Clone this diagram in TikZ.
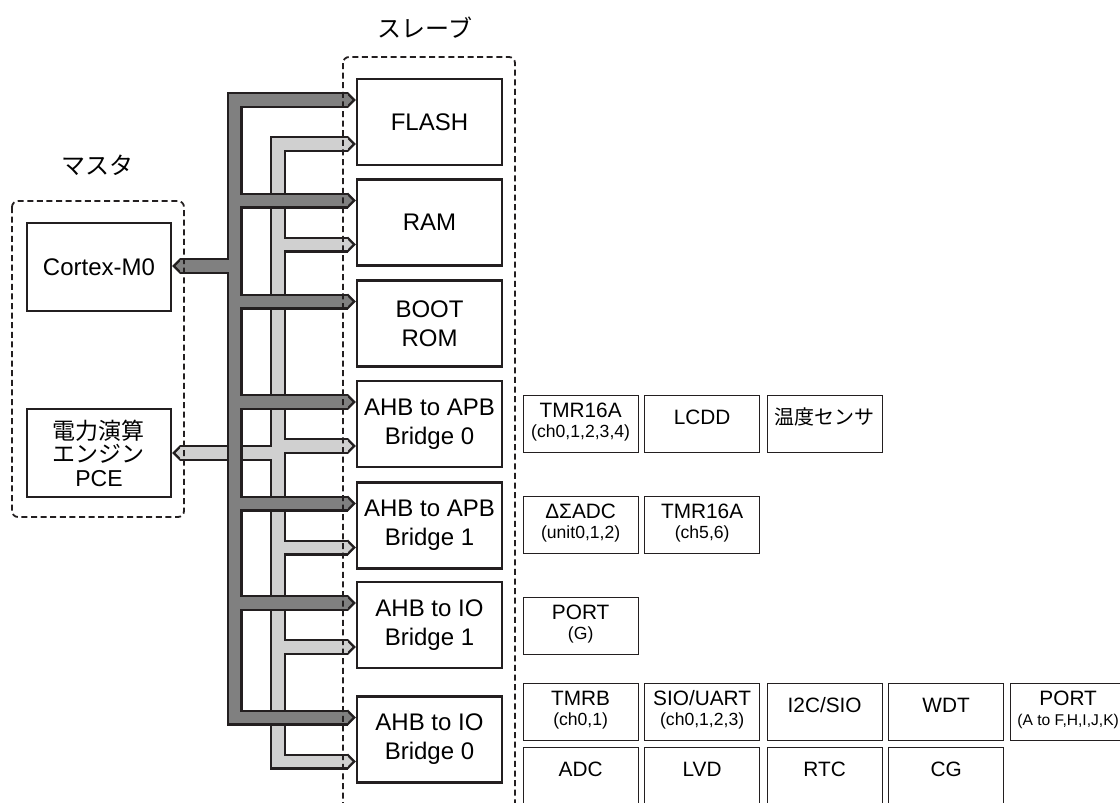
\documentclass[tikz,border=0pt]{standalone}
\usepackage{fontspec}
\setmainfont{Liberation Sans}
\newfontfamily\jp{Noto Sans CJK JP}
\usetikzlibrary{calc}
\definecolor{ink}{HTML}{231F20}
\definecolor{darkbus}{HTML}{808080}
\definecolor{lightbus}{HTML}{D0D0D0}
\tikzset{
  mainbox/.style={draw=ink, line width=1.2pt, minimum width=72.5pt, minimum height=43pt, inner sep=0pt, align=center, font=\fontsize{12}{14.5}\selectfont},
  masterbox/.style={mainbox, minimum width=72pt, minimum height=44pt},
  pbox/.style={draw=ink, line width=0.65pt, minimum width=57.5pt, minimum height=28.5pt, inner sep=0pt, anchor=north west},
  ptitle/.style={font=\fontsize{10.4}{12}\selectfont, inner sep=0pt},
  psub/.style={font=\fontsize{8.8}{10}\selectfont, inner sep=0pt},
  grpbox/.style={draw=ink, line width=0.9pt, dash pattern=on 3pt off 1.8pt, rounded corners=3pt},
  grptitle/.style={font=\jp\fontsize{12}{14}\selectfont, inner sep=0pt},
  busout/.style={draw=ink, line width=8pt},
  darkin/.style={draw=darkbus, line width=5.6pt},
  lightin/.style={draw=lightbus, line width=5.6pt},
  pics/bustip/.style={code={
    \fill[ink] (0,-8) -- (8,0) -- (0,8) -- cycle;
    \fill[#1] (-1,-5.6) -- (4.6,0) -- (-1,5.6) -- cycle;}},
}
\newcommand\darkbuspaths[1]{%
  \draw[#1] (flashD) -- (dk |- flashD) -- (dk |- io0D) -- (io0D);
  \draw[#1] (dk |- ramD) -- (ramD);
  \draw[#1] (dk |- bootD) -- (bootD);
  \draw[#1] (dk |- apb0D) -- (apb0D);
  \draw[#1] (dk |- apb1D) -- (apb1D);
  \draw[#1] (dk |- io1D) -- (io1D);
  \draw[#1] (dk |- cpuE) -- (cpuE);
}
\newcommand\lightbuspaths[1]{%
  \draw[#1] (flashL) -- (lt |- flashL) -- (lt |- io0L) -- (io0L);
  \draw[#1] (lt |- ramL) -- (ramL);
  \draw[#1] (lt |- apb0L) -- (apb0L);
  \draw[#1] (lt |- apb1L) -- (apb1L);
  \draw[#1] (lt |- io1L) -- (io1L);
  \draw[#1] (lt |- pceE) -- (pceE);
}
\begin{document}
\begin{tikzpicture}[x=0.5pt,y=-0.5pt]
\clip (0,0) rectangle (1120,803);

% titles
\node[grptitle] (slvt) at (425,28) {スレーブ};
\node[grptitle] (mstt) at (97.5,165) {マスタ};

% master boxes
\node[masterbox] (cpu) at (99,267) {Cortex-M0};
\node[masterbox, font=\fontsize{11.5}{11.75}\selectfont] (pce) at (99,453) {{\jp 電力演算}\\{\jp エンジン}\\PCE};

% slave boxes
\node[mainbox] (flash) at (429.5,122) {FLASH};
\node[mainbox] (ram) at (429.5,222.5) {RAM};
\node[mainbox] (boot) at (429.5,323.5) {BOOT\\ROM};
\node[mainbox] (apb0) at (429.5,424) {AHB to APB\\Bridge 0};
\node[mainbox] (apb1) at (429.5,525.5) {AHB to APB\\Bridge 1};
\node[mainbox] (io1) at (429.5,625) {AHB to IO\\Bridge 1};
\node[mainbox] (io0) at (429.5,739.5) {AHB to IO\\Bridge 0};

% bus coordinates
\coordinate (dk) at (234.5,0);
\coordinate (lt) at (278,0);
\foreach \b in {flash,ram,boot,apb0,apb1,io1,io0}{
  \coordinate (\b D) at ($(\b.west)+(-8,-22)$);
  \coordinate (\b L) at ($(\b.west)+(-8,22)$);
}
\coordinate (cpuE) at ($(cpu.east)+(8,-1)$);
\coordinate (pceE) at ($(pce.east)+(8,0)$);

% light bus
\lightbuspaths{busout}
\lightbuspaths{lightin}
\foreach \b in {flashL,ramL,apb0L,apb1L,io1L,io0L} \pic at (\b) {bustip=lightbus};
\pic[xscale=-1] at (pceE) {bustip=lightbus};

% dark bus
\darkbuspaths{busout}
\darkbuspaths{darkin}
\foreach \b in {flashD,ramD,bootD,apb0D,apb1D,io1D,io0D} \pic at (\b) {bustip=darkbus};
\pic[xscale=-1] at (cpuE) {bustip=darkbus};

% peripherals: APB bridge 0
\node[pbox] (tmra) at (522.5,395) {};
\node[ptitle] at ($(tmra.north)+(0,15)$) {TMR16A};
\node[psub] at ($(tmra.north)+(0,38)$) {(ch0,1,2,3,4)};
\node[pbox] (lcdd) at (644,395) {};
\node[ptitle] at ($(lcdd.north)+(0,22)$) {LCDD};
\node[pbox] (temp) at (766.5,395) {};
\node[ptitle, font=\jp\fontsize{10}{12}\selectfont] at ($(temp.north)+(0,22)$) {温度センサ};

% APB bridge 1
\node[pbox] (dsadc) at (522.5,496) {};
\node[ptitle] at ($(dsadc.north)+(0,15)$) {ΔΣADC};
\node[psub] at ($(dsadc.north)+(0,38)$) {(unit0,1,2)};
\node[pbox] (tmrc) at (644,496) {};
\node[ptitle] at ($(tmrc.north)+(0,15)$) {TMR16A};
\node[psub] at ($(tmrc.north)+(0,38)$) {(ch5,6)};

% IO bridge 1
\node[pbox] (portg) at (522.5,597) {};
\node[ptitle] at ($(portg.north)+(0,15)$) {PORT};
\node[psub] at ($(portg.north)+(0,38)$) {(G)};

% IO bridge 0, top row
\node[pbox] (tmrb) at (522.5,683) {};
\node[ptitle] at ($(tmrb.north)+(0,15)$) {TMRB};
\node[psub] at ($(tmrb.north)+(0,38)$) {(ch0,1)};
\node[pbox] (sio) at (644,683) {};
\node[ptitle] at ($(sio.north)+(0,15)$) {SIO/UART};
\node[psub] at ($(sio.north)+(0,38)$) {(ch0,1,2,3)};
\node[pbox] (i2c) at (766.5,683) {};
\node[ptitle] at ($(i2c.north)+(0,22)$) {I2C/SIO};
\node[pbox] (wdt) at (888,683) {};
\node[ptitle] at ($(wdt.north)+(0,22)$) {WDT};
\node[pbox] (porta) at (1010,683) {};
\node[ptitle] at ($(porta.north)+(0,15)$) {PORT};
\node[psub, font=\fontsize{7.8}{9}\selectfont] at ($(porta.north)+(0,38)$) {(A to F,H,I,J,K)};

% IO bridge 0, bottom row
\node[pbox, minimum height=45pt] (adc) at (522.5,747) {};
\node[ptitle] at ($(adc.north)+(0,22)$) {ADC};
\node[pbox, minimum height=45pt] (lvd) at (644,747) {};
\node[ptitle] at ($(lvd.north)+(0,22)$) {LVD};
\node[pbox, minimum height=45pt] (rtc) at (766.5,747) {};
\node[ptitle] at ($(rtc.north)+(0,22)$) {RTC};
\node[pbox, minimum height=45pt] (cg) at (888,747) {};
\node[ptitle] at ($(cg.north)+(0,22)$) {CG};

% group frames
\draw[grpbox] (12,201) rectangle (184,517);
\draw[grpbox] (343,57) rectangle (515,850);
\end{tikzpicture}
\end{document}
